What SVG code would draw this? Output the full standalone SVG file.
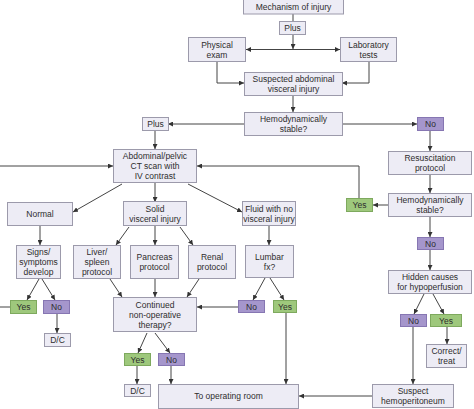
<svg xmlns="http://www.w3.org/2000/svg" width="474" height="409" viewBox="0 0 474 409">
<defs>
<marker id="ah" markerUnits="userSpaceOnUse" markerWidth="5" markerHeight="5" refX="5" refY="2.5" orient="auto">
<path d="M0,0 L5,2.5 L0,5 z" fill="#333"/>
</marker>
<style>
.box{fill:#edecf5;stroke:#9c9aab;stroke-width:1}
.yes{fill:#9ec87c;stroke:#7ea95e;stroke-width:1}
.no{fill:#a596cc;stroke:#8676b2;stroke-width:1}
text{font-family:"Liberation Sans",Arial,sans-serif;font-size:8.5px;fill:#2d2d2d;text-anchor:middle}
.c{fill:none;stroke:#444;stroke-width:1}
.a{marker-end:url(#ah)}
</style>
</defs>
<rect width="474" height="409" fill="#fff"/>
<g id="connectors">
<path class="c" d="M293,14 V21"/>
<path class="c a" d="M293,35 V49"/>
<path class="c a" d="M293,49.5 H246"/>
<path class="c a" d="M293,49.5 H340"/>
<path class="c a" d="M217,62 V83 H244"/>
<path class="c a" d="M369,62 V83 H342"/>
<path class="c a" d="M293,96 V112"/>
<path class="c a" d="M244,124 H168"/>
<path class="c a" d="M342,124 H417"/>
<path class="c a" d="M155,131 V149"/>
<path class="c a" d="M430,131 V151"/>
<path class="c a" d="M430,175 V193"/>
<path class="c a" d="M388,205 H373"/>
<path class="c a" d="M359,198 V166 H197"/>
<path class="c a" d="M0,166 H113"/>
<path class="c" d="M0,307 H10"/>
<path class="c a" d="M122,184 L73,212"/>
<path class="c a" d="M155,183 V202"/>
<path class="c a" d="M188,184 L242,212"/>
<path class="c a" d="M40,226 V245"/>
<path class="c a" d="M129,227 L116,245"/>
<path class="c a" d="M155,226 V245"/>
<path class="c a" d="M180,227 L193,245"/>
<path class="c a" d="M269,226 V245"/>
<path class="c a" d="M430,217 V237"/>
<path class="c a" d="M430,249 V270"/>
<path class="c a" d="M39,279 L27,300"/>
<path class="c a" d="M42,279 L55,300"/>
<path class="c a" d="M57,313 V333"/>
<path class="c a" d="M110,279 L122,297"/>
<path class="c a" d="M155,279 V297"/>
<path class="c a" d="M199,279 L187,297"/>
<path class="c a" d="M265,278 L253,300"/>
<path class="c a" d="M270,278 L284,300"/>
<path class="c a" d="M238,307 H197"/>
<path class="c a" d="M286,312 V384"/>
<path class="c a" d="M147,333 L138,353"/>
<path class="c a" d="M155,333 L170,353"/>
<path class="c a" d="M137,366 V384"/>
<path class="c a" d="M171,366 V384"/>
<path class="c a" d="M424,294 L414,314"/>
<path class="c a" d="M433,294 L444,314"/>
<path class="c a" d="M447,327 V344"/>
<path class="c a" d="M413,327 V384"/>
<path class="c a" d="M372,396 H299"/>
</g>
<g id="mech"><rect class="box" x="243.5" y="-2" width="100" height="16"/><text x="293.5" y="10">Mechanism of injury</text></g>
<g id="plus1"><rect class="box" x="279.5" y="21.5" width="26" height="13"/><text x="292.5" y="31">Plus</text></g>
<g id="phys"><rect class="box" x="188.5" y="37.5" width="57" height="24"/><text x="217" y="47.5">Physical</text><text x="217" y="57.5">exam</text></g>
<g id="lab"><rect class="box" x="340.5" y="37.5" width="56" height="24"/><text x="368.5" y="47.5">Laboratory</text><text x="368.5" y="57.5">tests</text></g>
<g id="susp"><rect class="box" x="244.5" y="72.5" width="98" height="23"/><text x="293.5" y="82">Suspected abdominal</text><text x="293.5" y="92">visceral injury</text></g>
<g id="hemo1"><rect class="box" x="244.5" y="112.5" width="98" height="23"/><text x="293.5" y="122">Hemodynamically</text><text x="293.5" y="132">stable?</text></g>
<g id="plus2"><rect class="box" x="142.5" y="117.5" width="26" height="13"/><text x="155.5" y="127">Plus</text></g>
<g id="no1"><rect class="no" x="417.5" y="117.5" width="26" height="13"/><text x="430.5" y="127">No</text></g>
<g id="ct"><rect class="box" x="113.5" y="149.5" width="83" height="33"/><text x="155" y="159">Abdominal/pelvic</text><text x="155" y="169">CT scan with</text><text x="155" y="179">IV contrast</text></g>
<g id="resus"><rect class="box" x="388.5" y="151.5" width="83" height="23"/><text x="430" y="161">Resuscitation</text><text x="430" y="171">protocol</text></g>
<g id="hemo2"><rect class="box" x="388.5" y="193.5" width="83" height="23"/><text x="430" y="203">Hemodynamically</text><text x="430" y="213">stable?</text></g>
<g id="yes1"><rect class="yes" x="346.5" y="198.5" width="26" height="13"/><text x="359.5" y="208">Yes</text></g>
<g id="normal"><rect class="box" x="7.5" y="202.5" width="65" height="23"/><text x="40" y="217">Normal</text></g>
<g id="solid"><rect class="box" x="123.5" y="201.5" width="63" height="24"/><text x="155" y="211.5">Solid</text><text x="155" y="221.5">visceral injury</text></g>
<g id="fluid"><rect class="box" x="242.5" y="201.5" width="53" height="24"/><text x="269" y="211.5">Fluid with no</text><text x="269" y="221.5">visceral injury</text></g>
<g id="signs"><rect class="box" x="16.5" y="245.5" width="44" height="33"/><text x="38.5" y="255">Signs/</text><text x="38.5" y="265">symptoms</text><text x="38.5" y="275">develop</text></g>
<g id="liver"><rect class="box" x="73.5" y="245.5" width="47" height="33"/><text x="97" y="255">Liver/</text><text x="97" y="265">spleen</text><text x="97" y="275">protocol</text></g>
<g id="pancreas"><rect class="box" x="130.5" y="245.5" width="48" height="33"/><text x="154.5" y="260">Pancreas</text><text x="154.5" y="270">protocol</text></g>
<g id="renal"><rect class="box" x="188.5" y="245.5" width="47" height="33"/><text x="212" y="260">Renal</text><text x="212" y="270">protocol</text></g>
<g id="lumbar"><rect class="box" x="245.5" y="245.5" width="48" height="32"/><text x="269.5" y="260">Lumbar</text><text x="269.5" y="270">fx?</text></g>
<g id="no2"><rect class="no" x="417.5" y="237.5" width="26" height="12"/><text x="430.5" y="246.5">No</text></g>
<g id="hidden"><rect class="box" x="388.5" y="270.5" width="83" height="23"/><text x="430" y="280">Hidden causes</text><text x="430" y="290">for hypoperfusion</text></g>
<g id="yes5"><rect class="yes" x="10.5" y="300.5" width="26" height="13"/><text x="23.5" y="310">Yes</text></g>
<g id="no5"><rect class="no" x="43.5" y="300.5" width="26" height="13"/><text x="56.5" y="310">No</text></g>
<g id="dc2"><rect class="box" x="44.5" y="333.5" width="26" height="13"/><text x="57.5" y="343">D/C</text></g>
<g id="continued"><rect class="box" x="113.5" y="297.5" width="83" height="34"/><text x="155" y="307.5">Continued</text><text x="155" y="317.5">non-operative</text><text x="155" y="327.5">therapy?</text></g>
<g id="no3"><rect class="no" x="238.5" y="300.5" width="26" height="12"/><text x="251.5" y="309.5">No</text></g>
<g id="yes3"><rect class="yes" x="273.5" y="300.5" width="23" height="12"/><text x="285" y="309.5">Yes</text></g>
<g id="no4"><rect class="no" x="400.5" y="314.5" width="26" height="12"/><text x="413.5" y="323.5">No</text></g>
<g id="yes2"><rect class="yes" x="430.5" y="314.5" width="31" height="12"/><text x="446" y="323.5">Yes</text></g>
<g id="correct"><rect class="box" x="426.5" y="344.5" width="40" height="23"/><text x="446.5" y="354">Correct/</text><text x="446.5" y="364">treat</text></g>
<g id="yes4"><rect class="yes" x="124.5" y="353.5" width="26" height="12"/><text x="137.5" y="362.5">Yes</text></g>
<g id="no6"><rect class="no" x="158.5" y="353.5" width="26" height="12"/><text x="171.5" y="362.5">No</text></g>
<g id="dc1"><rect class="box" x="124.5" y="384.5" width="26" height="12"/><text x="137.5" y="393.5">D/C</text></g>
<g id="toor"><rect class="box" x="158.5" y="384.5" width="140" height="24"/><text x="228.5" y="399">To operating room</text></g>
<g id="suspect"><rect class="box" x="372.5" y="384.5" width="81" height="23"/><text x="413" y="394">Suspect</text><text x="413" y="404">hemoperitoneum</text></g>
</svg>
